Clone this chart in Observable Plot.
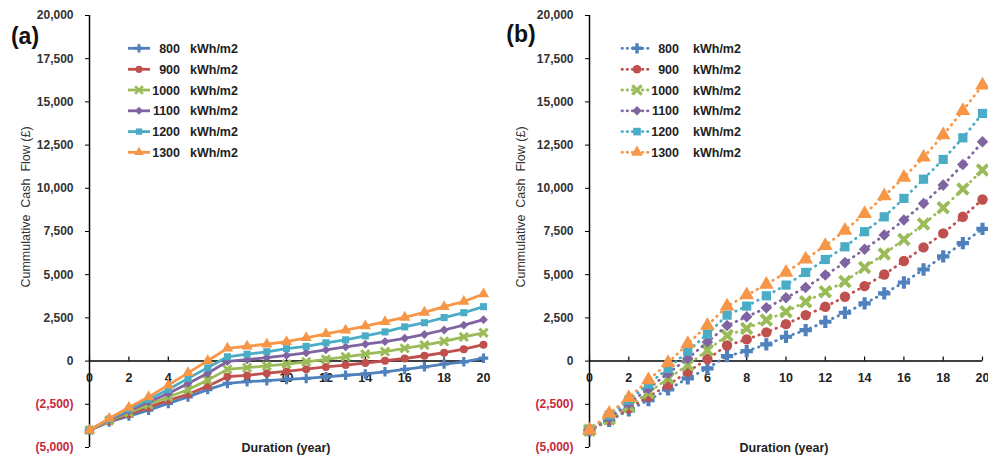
<!DOCTYPE html>
<html><head><meta charset="utf-8">
<script src="https://cdn.jsdelivr.net/npm/d3@7"></script>
<script src="https://cdn.jsdelivr.net/npm/@observablehq/plot@0.6"></script>
<style>
body{margin:0;background:#fff;font-family:"Liberation Sans",Arial,sans-serif;}
#wrap{position:relative;width:988px;height:460px;overflow:hidden;background:#fff;}
.panel{position:absolute;top:0;}
.ytitle{position:absolute;transform:translate(-50%,-50%) rotate(-90deg);font-size:12.5px;color:#333;white-space:pre;line-height:1;}
.xtitle{position:absolute;transform:translate(-50%,-50%);font-size:12.5px;font-weight:bold;color:#222;white-space:nowrap;line-height:1;}
.plabel{position:absolute;transform:translate(-50%,-50%);font-size:23px;font-weight:bold;color:#111;line-height:1;}
#legend{position:absolute;left:0;top:0;}
</style></head><body><div id="wrap"></div>
<script>
// ---------- data ----------
const years = [0,1,2,3,4,5,6,7,8,9,10,11,12,13,14,15,16,17,18,19,20];
const seriesNames = ["800","900","1000","1100","1200","1300"];
const unitLabel = "kWh/m2";
const colors = ["#4F81BD","#C0504D","#9BBB59","#8064A2","#4BACC6","#F79646"];
const symbols = ["cross","circle","times","diamond2","square","triangle"];

// panel (a)
const a800  = [-4000,-3520,-3180,-2840,-2450,-2070,-1650,-1290,-1190,-1130,-1060,-1000,-910,-820,-740,-620,-480,-330,-170,-40,170];
const a900  = [-4000,-3480,-3080,-2680,-2270,-1920,-1450,-900,-830,-700,-600,-470,-340,-230,-110,20,150,310,490,690,950];
const a1000 = [-4000,-3440,-2980,-2520,-2080,-1660,-1100,-480,-380,-280,-170,-40,100,250,400,550,740,930,1140,1400,1640];
const a1100 = [-4000,-3400,-2880,-2370,-1880,-1300,-700,-20,80,200,330,480,650,820,980,1130,1320,1540,1800,2080,2400];
const a1200 = [-4000,-3360,-2780,-2220,-1640,-1000,-390,250,400,540,720,850,1060,1230,1460,1690,1980,2220,2520,2800,3150];
const a1300 = [-4000,-3320,-2680,-2070,-1390,-680,20,740,860,980,1120,1350,1580,1790,2030,2280,2530,2820,3150,3450,3880];

// panel (b)
const b800  = [-4000,-3450,-2850,-2260,-1640,-1000,-420,290,580,966,1406,1794,2275,2795,3339,3920,4550,5300,6060,6830,7650];
const b900  = [-4000,-3400,-2740,-2060,-1390,-620,120,900,1256,1661,2141,2662,3143,3722,4340,5010,5790,6580,7390,8350,9350];
const b1000 = [-4000,-3350,-2600,-1830,-1000,-230,630,1480,1892,2373,2853,3432,4010,4610,5420,6200,7043,7928,8872,9954,11053];
const b1100 = [-4000,-3300,-2450,-1580,-710,150,1100,2060,2564,3085,3664,4265,4977,5700,6470,7292,8160,9126,10185,11380,12690];
const b1200 = [-4000,-3130,-2260,-1330,-425,570,1560,2660,3183,3779,4398,5133,5880,6614,7490,8350,9415,10530,11670,12920,14330];
const b1300 = [-4000,-3030,-2120,-1100,-100,1000,2060,3170,3819,4438,5133,5900,6672,7560,8530,9550,10630,11790,13080,14490,15970];

const xTicks = [0,2,4,6,8,10,12,14,16,18,20];
const yTicks = [-5000,-2500,0,2500,5000,7500,10000,12500,15000,17500,20000];
const panelLabels = ["(a)","(b)"];
const xTitle = "Duration (year)";
const yTitle = "Cummulative  Cash  Flow (£)";

// ---------- drawing ----------
const fmt = d => d < 0 ? `(${d3.format(",")(-d)})` : d3.format(",")(d);
const wrap = document.getElementById("wrap");

function makePanel(seriesValues, cfg) {
  const rows = seriesValues.map((vals, si) => years.map((yr, i) => ({s: si, year: yr, value: vals[i]})));
  const marks = [
    Plot.ruleY([0], {stroke: "#000", strokeWidth: 1.5}),
    Plot.ruleX([0], {stroke: "#000", strokeWidth: 1.5}),
    Plot.ruleX(xTicks, {x: d => d, y1: 0, y2: 0, insetBottom: 4, stroke: "#000", strokeWidth: 1.2}),
    Plot.text(xTicks, {x: d => d, y: 0, dy: 17, text: d => String(d), fontWeight: "bold", fontSize: 12.5, fill: "#222"}),
    Plot.axisY(yTicks.filter(d => d >= 0), {tickSize: 4, tickPadding: 12, tickFormat: fmt, fontWeight: "bold", fontSize: 12, fill: "#333", stroke: "#000", label: null}),
    Plot.axisY(yTicks.filter(d => d < 0), {tickSize: 4, tickPadding: 12, tickFormat: fmt, fontWeight: "bold", fontSize: 12, fill: "#C8283C", stroke: "#000", label: null})
  ];
  rows.forEach((data, si) => {
    marks.push(Plot.line(data, {x: "year", y: "value", stroke: colors[si], strokeWidth: cfg.lineWidth,
      strokeDasharray: cfg.dash, strokeLinecap: cfg.dash ? "round" : "butt", strokeLinejoin: "round"}));
    const sym = symbols[si];
    if (sym === "times") {
      marks.push(Plot.dot(data, {x: "year", y: "value", symbol: sym, r: cfg.r * 0.95, stroke: colors[si], strokeWidth: cfg.r * 0.75, fill: "none"}));
    } else {
      marks.push(Plot.dot(data, {x: "year", y: "value", symbol: sym, r: sym === "triangle" ? cfg.r * 1.05 : cfg.r, fill: colors[si], stroke: "none"}));
    }
  });
  const chart = Plot.plot({
    width: 494, height: 460,
    marginLeft: cfg.ml, marginRight: cfg.mr, marginTop: 15, marginBottom: 13,
    x: {domain: [0, 20], axis: null},
    y: {domain: [-5000, 20000]},
    style: {fontFamily: "Liberation Sans, Arial, sans-serif", background: "transparent", overflow: "visible"},
    marks
  });
  chart.classList.add("panel");
  chart.style.left = cfg.left + "px";
  wrap.appendChild(chart);
}

makePanel([a800,a900,a1000,a1100,a1200,a1300], {left: 0, ml: 89, mr: 11, lineWidth: 2.8, dash: null, r: 4});
makePanel([b800,b900,b1000,b1100,b1200,b1300], {left: 494, ml: 95, mr: 6, lineWidth: 2.8, dash: "0.5 5.6", r: 5.2});

// titles
function addDiv(cls, text, x, y) {
  const d = document.createElement("div");
  d.className = cls; d.textContent = text;
  d.style.left = x + "px"; d.style.top = y + "px";
  wrap.appendChild(d);
}
addDiv("ytitle", yTitle, 26, 207);
addDiv("ytitle", yTitle, 521, 207);
addDiv("xtitle", xTitle, 286, 448);
addDiv("xtitle", xTitle, 784, 448);
addDiv("plabel", panelLabels[0], 25, 36);
addDiv("plabel", panelLabels[1], 521, 34);

// legends
const svg = d3.select(wrap).append("svg").attr("id", "legend").attr("width", 988).attr("height", 460);
const rowY = [48.3, 69.3, 90, 110.8, 131.6, 152.3];
const legCfg = [
  {x1: 128, x2: 150, numEnd: 180, unitStart: 190, r: 3.6, dash: null},
  {x1: 622, x2: 652, numEnd: 679, unitStart: 693, r: 4.3, dash: "0.5 4.6"}
];
const symMap = {cross: d3.symbolCross, circle: d3.symbolCircle, times: d3.symbolTimes, diamond2: d3.symbolDiamond2, square: d3.symbolSquare, triangle: d3.symbolTriangle};
legCfg.forEach(c => {
  seriesNames.forEach((name, i) => {
    const y = rowY[i];
    const g = svg.append("g");
    g.append("line").attr("x1", c.x1).attr("x2", c.x2).attr("y1", y).attr("y2", y)
      .attr("stroke", colors[i]).attr("stroke-width", 2.8)
      .attr("stroke-dasharray", c.dash).attr("stroke-linecap", c.dash ? "round" : "butt");
    const sym = symbols[i];
    const path = d3.symbol(symMap[sym], Math.PI * c.r * c.r)();
    const p = g.append("path").attr("d", path).attr("transform", `translate(${(c.x1 + c.x2) / 2},${y})`);
    if (sym === "times") p.attr("fill", "none").attr("stroke", colors[i]).attr("stroke-width", c.r * 0.75);
    else p.attr("fill", colors[i]);
    g.append("text").attr("x", c.numEnd).attr("y", y).attr("dy", "0.36em").attr("text-anchor", "end")
      .attr("font-size", 12.5).attr("font-weight", "bold").attr("fill", "#222")
      .attr("font-family", "Liberation Sans, Arial, sans-serif").text(name);
    g.append("text").attr("x", c.unitStart).attr("y", y).attr("dy", "0.36em")
      .attr("font-size", 12.5).attr("font-weight", "bold").attr("fill", "#222")
      .attr("font-family", "Liberation Sans, Arial, sans-serif").text(unitLabel);
  });
});
</script></body></html>
